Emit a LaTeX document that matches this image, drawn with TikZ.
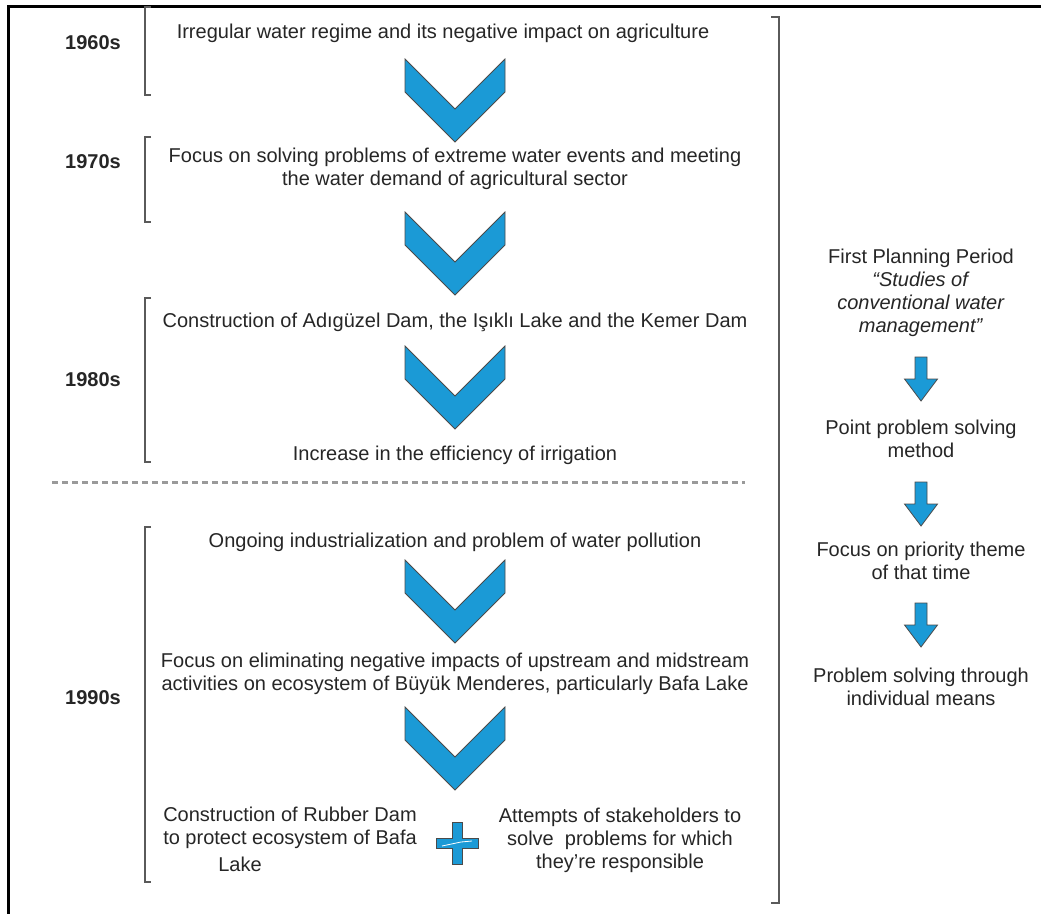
\documentclass[tikz,border=0pt]{standalone}
\usepackage{fontspec}
\setmainfont{Liberation Sans}
\definecolor{ink}{HTML}{262626}
\definecolor{chevblue}{HTML}{1B9AD6}
\definecolor{chevedge}{HTML}{4A4A4A}
\definecolor{brk}{HTML}{5A5A5A}
\definecolor{dashgray}{HTML}{9A9A9A}
\begin{document}
\begin{tikzpicture}[x=1pt,y=-1pt,
  txt/.style={font=\fontsize{20}{23}\selectfont, text=ink, align=center, inner sep=0pt},
  year/.style={font=\fontsize{20}{23}\selectfont\bfseries, text=ink, inner sep=0pt},
  bracketline/.style={draw=brk, line width=1.4pt},
  shapefill/.style={fill=chevblue, draw=chevedge, line width=0.8pt, line join=miter},
  chev/.pic={\path[shapefill] (-50,0) -- (0,50) -- (50,0) -- (50,33) -- (0,83) -- (-50,33) -- cycle;},
  downarrow/.pic={\path[shapefill] (-6,0) -- (6,0) -- (6,22) -- (16.5,22) -- (0,44) -- (-16.5,22) -- (-6,22) -- cycle;},
  plussign/.pic={\path[shapefill] (-5,-21) -- (5,-21) -- (5,-5) -- (21,-5) -- (21,5) -- (5,5) -- (5,21) -- (-5,21) -- (-5,5) -- (-21,5) -- (-21,-5) -- (-5,-5) -- cycle;
     \draw[white, line width=0.8pt] (-15,3) -- (4,-1) -- (15,-2);}
]
\useasboundingbox (0,0) rectangle (1041,913);
\fill[white] (0,0) rectangle (1041,913);

% outer frame (top and left edges)
\draw[black, line width=3pt] (8,925) -- (8,6) -- (1050,6);

% decade labels
\node[year] (y60) at (93,43) {1960s};
\node[year] (y70) at (93,162) {1970s};
\node[year] (y80) at (93,380) {1980s};
\node[year] (y90) at (93,698) {1990s};

% decade brackets
\draw[bracketline] (151,7) -- (145,7) -- (145,95) -- (151,95);
\draw[bracketline] (151,137) -- (145,137) -- (145,222) -- (151,222);
\draw[bracketline] (151,298) -- (145,298) -- (145,462) -- (151,462);
\draw[bracketline] (151,527) -- (145,527) -- (145,882) -- (151,882);

% bracket spanning the first planning period
\draw[bracketline] (771,17) -- (779,17) -- (779,903) -- (771,903);

% divider between the 1980s and 1990s
\draw[dashgray, line width=3pt, dash pattern=on 6pt off 4pt] (52,482) -- (745,482);

% main sequence
\node[txt] (t1) at (443,33) {Irregular water regime and its negative impact on agriculture};
\pic at (455,59) {chev};
\node[txt] (t2) at (455,169) {Focus on solving problems of extreme water events and meeting\\the water demand of agricultural sector};
\pic at (455,212) {chev};
\node[txt] (t3) at (455,322) {Construction of Adıgüzel Dam, the Işıklı Lake and the Kemer Dam};
\pic at (455,346) {chev};
\node[txt] (t4) at (455,455) {Increase in the efficiency of irrigation};
\node[txt] (t5) at (455,542) {Ongoing industrialization and problem of water pollution};
\pic at (455,560) {chev};
\node[txt] (t6) at (455,674) {Focus on eliminating negative impacts of upstream and midstream\\activities on ecosystem of Büyük Menderes, particularly Bafa Lake};
\pic at (455,707) {chev};
\node[txt] (t7) at (290,828) {Construction of Rubber Dam\\to protect ecosystem of Bafa};
\node[txt] (t7b) at (240,864) {Lake};
\node[txt] (t8) at (620,840) {Attempts of stakeholders to\\solve~ problems for which\\they’re responsible};
\pic at (457,843) {plussign};

% planning period summary
\node[txt] (r1) at (921,293) {First Planning Period\\\textit{“Studies of}\\\textit{conventional water}\\\textit{management”}};
\pic at (921,357) {downarrow};
\node[txt] (r2) at (921,439) {Point problem solving\\method};
\pic at (921,482) {downarrow};
\node[txt] (r3) at (921,561) {Focus on priority theme\\of that time};
\pic at (921,603) {downarrow};
\node[txt] (r4) at (921,687) {Problem solving through\\individual means};
\end{tikzpicture}
\end{document}
